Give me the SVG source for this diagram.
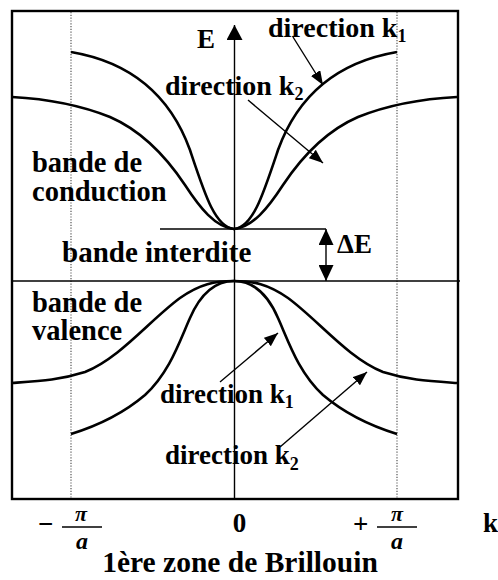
<svg xmlns="http://www.w3.org/2000/svg" width="498" height="580" viewBox="0 0 498 580">
<defs>
<marker id="ah" viewBox="0 0 14 11" refX="14" refY="5.5" markerWidth="14" markerHeight="11" markerUnits="userSpaceOnUse" orient="auto-start-reverse">
<path d="M0,0 L14,5.5 L0,11 Z" fill="#000"/>
</marker>
<marker id="ahd" viewBox="0 0 16 15" refX="16" refY="7.5" markerWidth="16" markerHeight="15" markerUnits="userSpaceOnUse" orient="auto-start-reverse">
<path d="M0,0 L16,7.5 L0,15 Z" fill="#000"/>
</marker>
<marker id="ahs" viewBox="0 0 15 16" refX="15" refY="8" markerWidth="15" markerHeight="16" markerUnits="userSpaceOnUse" orient="auto-start-reverse">
<path d="M0,0 L15,8 L0,16 Z" fill="#000"/>
</marker>
</defs>
<style>
.curve{fill:none;stroke:#000;stroke-width:2.6}
.thin{fill:none;stroke:#000;stroke-width:1.4}
.dot{fill:none;stroke:#555;stroke-width:1.2;stroke-dasharray:1.2,1.6}
</style>
<rect width="498" height="580" fill="#fff"/>
<g id="frame">
<rect x="12" y="11" width="446" height="488" fill="none" stroke="#000" stroke-width="2.4"/>
<line class="dot" x1="71" y1="12" x2="71" y2="498"/>
<line class="dot" x1="397" y1="12" x2="397" y2="498"/>
</g>
<g id="connectors">
<line class="thin" x1="234.5" y1="499" x2="234.5" y2="25" marker-end="url(#ahs)"/>
<line class="thin" x1="160" y1="229" x2="326" y2="229"/>
<line class="thin" x1="12" y1="281" x2="460" y2="281"/>
<line class="thin" x1="326" y1="229" x2="326" y2="281" marker-start="url(#ahd)" marker-end="url(#ahd)"/>
<line class="thin" x1="293" y1="37" x2="323" y2="85" marker-end="url(#ah)"/>
<line class="thin" x1="248" y1="100" x2="323" y2="163" marker-end="url(#ah)"/>
<line class="thin" x1="220" y1="382" x2="278" y2="333" marker-end="url(#ah)"/>
<line class="thin" x1="280" y1="447" x2="367" y2="372" marker-end="url(#ah)"/>
</g>
<g id="conduction">
<path class="curve" d="M71,52 C130,62 170,95 190,150 C205,195 215,227 234,229 C253,227 263,195 278,150 C298,95 338,62 397,52"/>
<path class="curve" d="M12,97 C50,99 80,105 110,117 C140,130 165,155 185,185 C200,208 215,227 234,229 C253,227 268,208 283,185 C303,155 328,130 358,117 C388,105 418,99 457,97"/>
</g>
<g id="valence">
<path class="curve" d="M12,383 C40,381 60,380 85,372 C120,358 150,320 180,298 C200,284 215,281 234,281 C253,281 268,284 288,298 C318,320 348,358 383,372 C408,380 428,381 457,383"/>
<path class="curve" d="M71,434 C100,425 125,412 145,395 C170,372 180,340 190,318 C200,295 215,281 234,281 C253,281 268,295 278,318 C288,340 298,372 323,395 C343,412 368,425 397,434"/>
</g>
<g id="labels">
<text x="197" y="48" font-family="Liberation Serif" font-weight="bold" font-size="27">E</text>
<text x="268" y="37" font-family="Liberation Serif" font-weight="bold" font-size="28">direction k<tspan font-size="18" dy="5">1</tspan></text>
<text x="165" y="95" font-family="Liberation Serif" font-weight="bold" font-size="28">direction k<tspan font-size="18" dy="5">2</tspan></text>
<text x="32" y="172" font-family="Liberation Serif" font-weight="bold" font-size="28.5">bande de</text>
<text x="32" y="201" font-family="Liberation Serif" font-weight="bold" font-size="28.5">conduction</text>
<text x="62" y="262" font-family="Liberation Serif" font-weight="bold" font-size="29">bande interdite</text>
<text x="337" y="253" font-family="Liberation Serif" font-weight="bold" font-size="27">ΔE</text>
<text x="32" y="312" font-family="Liberation Serif" font-weight="bold" font-size="28.5">bande de</text>
<text x="32" y="340" font-family="Liberation Serif" font-weight="bold" font-size="28.5">valence</text>
<text x="160" y="403" font-family="Liberation Serif" font-weight="bold" font-size="27">direction k<tspan font-size="18" dy="5">1</tspan></text>
<text x="165" y="464" font-family="Liberation Serif" font-weight="bold" font-size="27">direction k<tspan font-size="18" dy="6">2</tspan></text>
</g>
<g id="axis-labels">
<text x="38" y="533" font-family="Liberation Serif" font-weight="bold" font-size="27">−</text>
<text x="81" y="521" font-family="Liberation Serif" font-weight="bold" font-style="italic" font-size="22" text-anchor="middle">π</text>
<line x1="62" y1="527" x2="102" y2="527" stroke="#000" stroke-width="1.6"/>
<text x="82" y="549" font-family="Liberation Serif" font-weight="bold" font-style="italic" font-size="24" text-anchor="middle">a</text>
<text x="239.5" y="532" font-family="Liberation Serif" font-weight="bold" font-size="27" text-anchor="middle">0</text>
<text x="353" y="533" font-family="Liberation Serif" font-weight="bold" font-size="27">+</text>
<text x="397" y="521" font-family="Liberation Serif" font-weight="bold" font-style="italic" font-size="22" text-anchor="middle">π</text>
<line x1="377" y1="527" x2="417" y2="527" stroke="#000" stroke-width="1.6"/>
<text x="397" y="549" font-family="Liberation Serif" font-weight="bold" font-style="italic" font-size="24" text-anchor="middle">a</text>
<text x="483" y="532" font-family="Liberation Serif" font-weight="bold" font-size="27">k</text>
<text x="240" y="572" font-family="Liberation Serif" font-weight="bold" font-size="29.5" text-anchor="middle">1ère zone de Brillouin</text>
</g>
</svg>
